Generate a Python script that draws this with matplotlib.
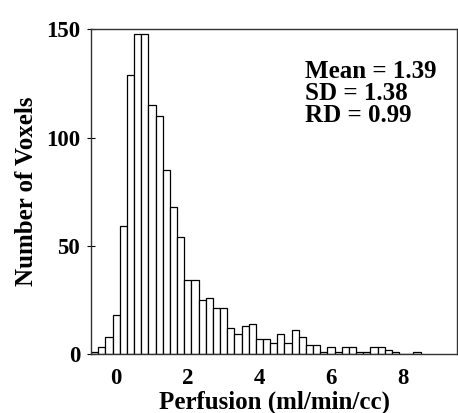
import matplotlib
matplotlib.use("Agg")
import matplotlib.pyplot as plt
import numpy as np

plt.rcParams['font.family'] = ['Liberation Serif', 'DejaVu Serif']
plt.rcParams['font.weight'] = 'bold'

# bin centres (ml/min/cc) and voxel counts
bin_centres = np.round(np.arange(-0.6, 8.41, 0.2), 1)
counts = [1, 3, 8, 18, 59, 129, 148, 148, 115, 110,
          85, 68, 54, 34, 34, 25, 26, 21, 21, 12,
          9, 13, 14, 7, 7, 5, 9, 5, 11, 8,
          4, 4, 1, 3, 1, 3, 3, 1, 1, 3,
          3, 2, 1, 0, 0, 1]
x_ticks = [0, 2, 4, 6, 8]
y_ticks = [0, 50, 100, 150]
stats_text = "Mean = 1.39\nSD = 1.38\nRD = 0.99"

fig = plt.figure(figsize=(4.58, 4.13), dpi=100)
ax = fig.add_axes([0.199, 0.143, 0.799, 0.786])

ax.bar(bin_centres, counts, width=0.2, color="white", edgecolor="black", linewidth=0.9)

ax.set_xlim(-0.7, 9.52)
ax.set_ylim(0, 150)
ax.set_xticks(x_ticks)
ax.set_yticks(y_ticks)
ax.tick_params(axis="both", direction="inout", labelsize=16.5, width=0.8)
ax.tick_params(axis="x", length=0, pad=10)
ax.tick_params(axis="y", length=6, pad=5)
for s in ax.spines.values():
    s.set_linewidth(1.0)
    s.set_color("#333333")

ax.set_xlabel("Perfusion (ml/min/cc)", fontsize=18, fontweight="bold", labelpad=1)
ax.set_ylabel("Number of Voxels", fontsize=18, fontweight="bold", labelpad=6)

ax.text(0.585, 0.905, stats_text, transform=ax.transAxes, fontsize=18,
        fontweight="bold", va="top", ha="left", linespacing=0.95)

fig.savefig("out.png", dpi=100)
